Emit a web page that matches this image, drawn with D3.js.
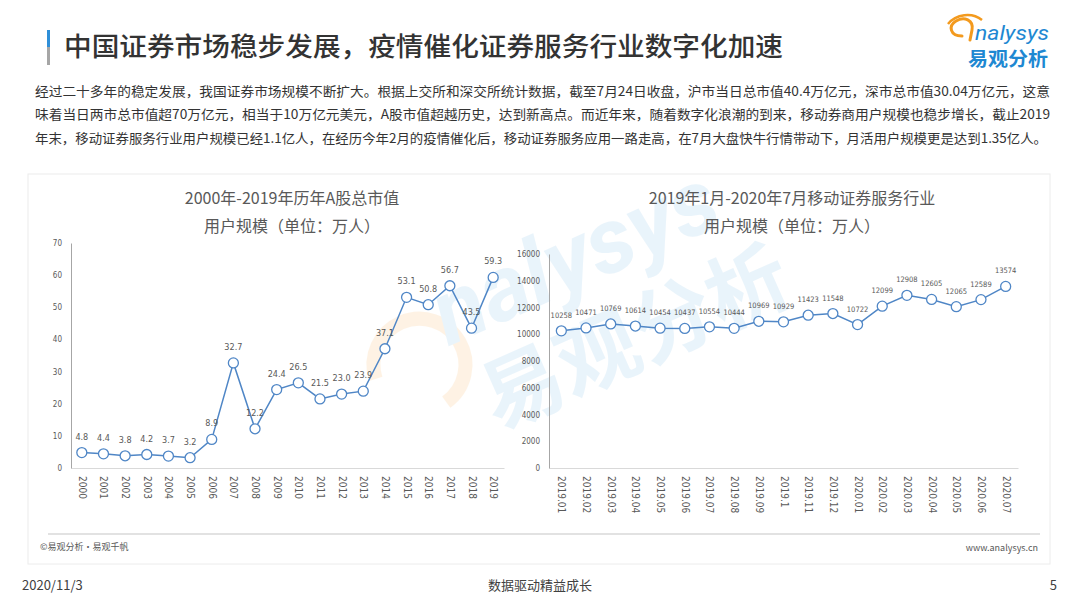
<!DOCTYPE html>
<html><head><meta charset="utf-8">
<script src="https://cdn.jsdelivr.net/npm/d3@7/dist/d3.min.js"></script>
<style>
html,body{margin:0;padding:0;background:#fff;}
svg{display:block;font-family:"Noto Sans CJK SC","Noto Sans",sans-serif;}
</style></head>
<body>
<svg id="c" width="1080" height="608"></svg>
<script>
// ---------- data ----------
const titleText = "中国证券市场稳步发展，疫情催化证券服务行业数字化加速";
const paragraphLines = [
  "经过二十多年的稳定发展，我国证券市场规模不断扩大。根据上交所和深交所统计数据，截至7月24日收盘，沪市当日总市值40.4万亿元，深市总市值30.04万亿元，这意",
  "味着当日两市总市值超70万亿元，相当于10万亿元美元，A股市值超越历史，达到新高点。而近年来，随着数字化浪潮的到来，移动券商用户规模也稳步增长，截止2019",
  "年末，移动证券服务行业用户规模已经1.1亿人，在经历今年2月的疫情催化后，移动证券服务应用一路走高，在7月大盘快牛行情带动下，月活用户规模更是达到1.35亿人。"
];
const leftTitle = ["2000年-2019年历年A股总市值", "用户规模（单位：万人）"];
const rightTitle = ["2019年1月-2020年7月移动证券服务行业", "用户规模（单位：万人）"];

const years = ["2000","2001","2002","2003","2004","2005","2006","2007","2008","2009",
               "2010","2011","2012","2013","2014","2015","2016","2017","2018","2019"];
const marketValue = [4.8,4.4,3.8,4.2,3.7,3.2,8.9,32.7,12.2,24.4,26.5,21.5,23.0,23.9,37.1,53.1,50.8,56.7,43.5,59.3];
const leftTicks = [0,10,20,30,40,50,60,70];

const months = ["2019.01","2019.02","2019.03","2019.04","2019.05","2019.06","2019.07","2019.08","2019.09","2019.1",
                "2019.11","2019.12","2020.01","2020.02","2020.03","2020.04","2020.05","2020.06","2020.07"];
const users = [10258,10471,10769,10614,10454,10437,10554,10444,10969,10929,11423,11548,10722,12099,12908,12605,12065,12589,13574];
const rightTicks = [0,2000,4000,6000,8000,10000,12000,14000,16000];

const footerLeft = "©易观分析·易观千帆";
const footerRight = "www.analysys.cn";
const pageDate = "2020/11/3";
const pageSlogan = "数据驱动精益成长";
const pageNum = "5";

// ---------- drawing ----------
const svg = d3.select("#c");
const LINE = "#4f86c6", TXT = "#595959";
const NUMF = "'Liberation Sans Narrow','DejaVu Sans Condensed',sans-serif";

// header bar
svg.append("rect").attr("x",47).attr("y",30).attr("width",3).attr("height",17).attr("fill","#2f8fd8");
svg.append("rect").attr("x",47).attr("y",47).attr("width",3).attr("height",18).attr("fill","#a6a6a6");
svg.append("text").attr("x",64).attr("y",56).attr("font-size",26).attr("font-weight",500)
  .attr("fill","#333").attr("textLength",719).attr("lengthAdjust","spacingAndGlyphs").text(titleText);

// logo
const logo = svg.append("g");
logo.append("path").attr("d","M962,36 C950,36 948,26 956,21 C964,16 974,20 972,30 L970,40")
  .attr("fill","none").attr("stroke","#f39a1e").attr("stroke-width",3).attr("stroke-linecap","round");
logo.append("path").attr("d","M948,24 C956,14 972,12 982,20").attr("fill","none").attr("stroke","#f39a1e").attr("stroke-width",2.5);
logo.append("text").attr("x",975).attr("y",40).attr("font-family","Roboto, sans-serif").attr("font-size",21)
  .attr("font-style","italic").attr("fill","#1e88d2").attr("textLength",74).attr("lengthAdjust","spacingAndGlyphs").text("nalysys");
logo.append("text").attr("x",968).attr("y",66).attr("font-size",19).attr("font-weight",700)
  .attr("fill","#1e88d2").attr("textLength",80).attr("lengthAdjust","spacingAndGlyphs").text("易观分析");

// paragraph
const pY = [96, 119, 143];
paragraphLines.forEach((t,i)=>{
  svg.append("text").attr("x",35).attr("y",pY[i]).attr("font-size",13).attr("fill","#333")
    .attr("textLength", i<2 ? 1015 : 1012).attr("lengthAdjust","spacingAndGlyphs").text(t);
});

// panel
svg.append("rect").attr("x",28).attr("y",174).attr("width",1022).attr("height",390)
  .attr("fill","#fff").attr("stroke","#ececec").attr("stroke-width",1);
svg.append("line").attr("x1",48).attr("x2",1040).attr("y1",534).attr("y2",534).attr("stroke","#d9d9d9").attr("stroke-width",1.5);
svg.append("text").attr("x",40).attr("y",550).attr("font-size",9).attr("fill","#595959").text(footerLeft);
svg.append("text").attr("x",1038).attr("y",551).attr("font-size",9).attr("text-anchor","end").attr("fill","#595959").text(footerRight);

// watermark
const wm = svg.append("g").attr("transform","translate(565,300) rotate(-24)").attr("opacity",0.22);
wm.append("path").attr("d","M-205,-5 A46,46 0 1 1 -150,45").attr("fill","none").attr("stroke","#fbc98a").attr("stroke-width",14);
wm.append("text").attr("x",-125).attr("y",-5).attr("font-family","Roboto, sans-serif").attr("font-size",92).attr("font-weight",700)
  .attr("font-style","italic").attr("fill","#9fd0f0").text("nalysys");
wm.append("text").attr("x",-115).attr("y",92).attr("font-size",82).attr("font-weight",700).attr("fill","#9fd0f0").text("易观分析");

// bottom
svg.append("text").attr("x",22).attr("y",590).attr("font-size",13).attr("fill","#404040").text(pageDate);
svg.append("text").attr("x",540).attr("y",590).attr("font-size",13).attr("text-anchor","middle").attr("fill","#404040").text(pageSlogan);
svg.append("text").attr("x",1057).attr("y",590).attr("font-size",13).attr("text-anchor","end").attr("fill","#404040").text(pageNum);

function drawChart(cfg){
  const g = svg.append("g");
  g.append("text").attr("x",cfg.cx).attr("y",204).attr("text-anchor","middle").attr("font-size",16).attr("fill",TXT).text(cfg.title[0]);
  g.append("text").attr("x",cfg.cx).attr("y",232).attr("text-anchor","middle").attr("font-size",16).attr("fill",TXT).text(cfg.title[1]);
  const x = d3.scalePoint().domain(cfg.cats).range([cfg.x0, cfg.x1]).padding(0.5);
  const y = d3.scaleLinear().domain([0, d3.max(cfg.ticks)]).range([cfg.y0, cfg.y1]);
  const xa = g.append("g").attr("transform",`translate(0,${cfg.y0})`)
    .call(d3.axisBottom(x).tickSize(0).tickPadding(0));
  xa.select(".domain").attr("stroke","#d9d9d9").attr("stroke-width",1.2);
  xa.selectAll(".tick text").attr("transform","translate(-3.5,8) rotate(90)").attr("text-anchor","start")
    .attr("dy","0").attr("y",0).attr("x",0)
    .attr("font-size",10).attr("fill",TXT).attr("font-family",NUMF);
  const ya = g.append("g").attr("transform",`translate(${cfg.x0},0)`)
    .call(d3.axisLeft(y).tickValues(cfg.ticks).tickSize(0).tickPadding(9).tickFormat(d3.format("d")));
  ya.select(".domain").attr("stroke","#a6a6a6").attr("stroke-width",1);
  ya.selectAll(".tick text").attr("font-size",8).attr("fill",TXT).attr("font-family",NUMF);
  const line = d3.line().x((d,i)=>x(cfg.cats[i])).y(d=>y(d));
  g.append("path").datum(cfg.vals).attr("d",line).attr("fill","none").attr("stroke",LINE).attr("stroke-width",1.5);
  g.selectAll("circle.m").data(cfg.vals).join("circle").attr("class","m")
    .attr("cx",(d,i)=>x(cfg.cats[i])).attr("cy",d=>y(d)).attr("r",cfg.r)
    .attr("fill","#fff").attr("stroke",LINE).attr("stroke-width",1.3);
  g.selectAll("text.lbl").data(cfg.vals).join("text").attr("class","lbl")
    .attr("x",(d,i)=>x(cfg.cats[i])).attr("y",d=>y(d)-cfg.lo)
    .attr("text-anchor","middle").attr("font-size",cfg.lf).attr("fill",TXT)
    .attr("font-family",NUMF)
    .text(d=>cfg.fmt(d));
}

drawChart({cx:292, title:leftTitle, cats:years, vals:marketValue, ticks:leftTicks,
  x0:71, x1:504, y0:468, y1:243, r:5, lo:13, lf:9, fmt:d3.format(".1f")});
drawChart({cx:792, title:rightTitle, cats:months, vals:users, ticks:rightTicks,
  x0:549, x1:1018, y0:468, y1:254, r:5, lo:13, lf:7.5, fmt:d3.format("d")});
</script>
</body></html>
